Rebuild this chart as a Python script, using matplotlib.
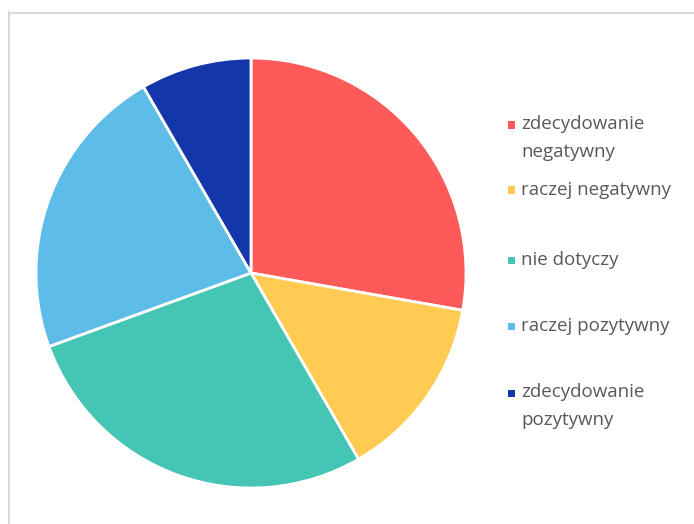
import matplotlib
matplotlib.use("Agg")
import matplotlib.pyplot as plt
from matplotlib.patches import Rectangle
from matplotlib.lines import Line2D

categories = ["zdecydowanie\nnegatywny", "raczej negatywny", "nie dotyczy",
              "raczej pozytywny", "zdecydowanie\npozytywny"]
counts = [10, 5, 10, 8, 3]
colors = ["#FF5A5A", "#FFCB52", "#45C5B4", "#5EBCE9", "#1436AB"]

W, H = 694, 524
fig = plt.figure(figsize=(W / 100, H / 100), dpi=100)

# pie area (pixels): x 36..466, y 58..488
ax = fig.add_axes([36 / W, (H - 488) / H, 430 / W, 430 / H])
ax.pie(counts, colors=colors, startangle=90, counterclock=False, radius=1,
       wedgeprops=dict(edgecolor="white", linewidth=2))
ax.set_xlim(-1.0, 1.0)
ax.set_ylim(-1.0, 1.0)
ax.set_aspect("equal")
ax.axis("off")

# chart frame (left + top edges visible)
fig.add_artist(Line2D([8.5 / W, 8.5 / W], [0, 1 - 12 / H], transform=fig.transFigure,
                      color="#D9D9D9", lw=1.5))
fig.add_artist(Line2D([8.5 / W, 1], [1 - 12.5 / H, 1 - 12.5 / H], transform=fig.transFigure,
                      color="#D9D9D9", lw=1.5))

# legend entries, manual layout (marker sits on the first text line)
text_y = [138, 190, 260, 326, 406]
marker_y = [125, 190, 260, 326, 393]
for lab, col, ty, my in zip(categories, colors, text_y, marker_y):
    fig.add_artist(Rectangle((508 / W, 1 - (my + 3.5) / H), 7 / W, 7 / H,
                             transform=fig.transFigure, facecolor=col, edgecolor="none"))
    fig.text(521 / W, 1 - ty / H, lab, ha="left", va="center", fontsize=13.5,
             family="Open Sans", color="#595959", linespacing=1.75)

fig.savefig("out.png", dpi=100)
